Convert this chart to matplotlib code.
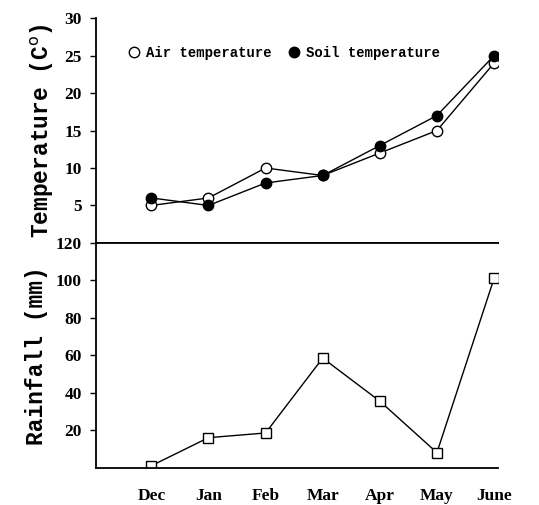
import numpy as np
import matplotlib.pyplot as plt

months = ['Dec', 'Jan', 'Feb', 'Mar', 'Apr', 'May', 'June']
air_temp = [5, 6, 10, 9, 12, 15, 24]
soil_temp = [6, 5, 8, 9, 13, 17, 25]
rainfall = [1, 16, 18.5, 58.5, 35.5, 8, 101]

x = np.arange(len(months))
serif = {'family': 'Liberation Serif', 'weight': 'bold'}
mono = {'family': 'Liberation Mono', 'weight': 'bold'}

fig = plt.figure(figsize=(5.39, 5.05), dpi=100)
ax1 = fig.add_axes([0.178, 0.519, 0.746, 0.445])
ax2 = fig.add_axes([0.178, 0.074, 0.746, 0.445])

# temperature panel
ax1.plot(x, air_temp, '-o', color='black', mfc='white', mec='black',
         ms=7.5, lw=1, label='Air temperature')
ax1.plot(x, soil_temp, '-o', color='black', mfc='black', mec='black',
         ms=7.5, lw=1, label='Soil temperature')
ax1.set_xlim(-0.97, 6.07)
ax1.set_ylim(0, 30)
ax1.set_yticks([5, 10, 15, 20, 25, 30])
ax1.set_xticks([])
ax1.spines['top'].set_visible(False)
ax1.spines['right'].set_visible(False)
ax1.spines['bottom'].set_linewidth(1.3)
ax1.spines['left'].set_linewidth(1.3)
ax1.tick_params(axis='y', direction='out', length=4, width=1, pad=6)
for t in ax1.get_yticklabels():
    t.set_fontproperties(serif)
    t.set_fontsize(12.5)
ax1.set_ylabel('Temperature (C$^{\\mathrm{o}}$)', fontdict=mono, fontsize=16.5, labelpad=6)
leg = ax1.legend(loc='center', bbox_to_anchor=(0.47, 0.845), ncol=2, frameon=False,
                 prop={'family': 'Liberation Mono', 'weight': 'bold', 'size': 10},
                 handlelength=0.6, handletextpad=0.6, columnspacing=1.3)
for h in leg.legend_handles:
    h.set_linestyle('None')

# rainfall panel
ax2.plot(x, rainfall, '-s', color='black', mfc='white', mec='black',
         ms=6.5, lw=1)
ax2.set_xlim(-0.97, 6.07)
ax2.set_ylim(0, 120)
ax2.set_yticks([20, 40, 60, 80, 100, 120])
ax2.set_xticks(x)
ax2.set_xticklabels(months)
ax2.spines['right'].set_visible(False)
for s in ['top', 'bottom', 'left']:
    ax2.spines[s].set_linewidth(1.3)
ax2.tick_params(axis='y', direction='out', length=4, width=1, pad=6)
ax2.tick_params(axis='x', length=0, pad=15)
for t in ax2.get_yticklabels() + ax2.get_xticklabels():
    t.set_fontproperties(serif)
    t.set_fontsize(12.5)
ax2.set_ylabel('Rainfall (mm)', fontdict=mono, fontsize=16.5, labelpad=6)

fig.savefig('out.png', dpi=100)
